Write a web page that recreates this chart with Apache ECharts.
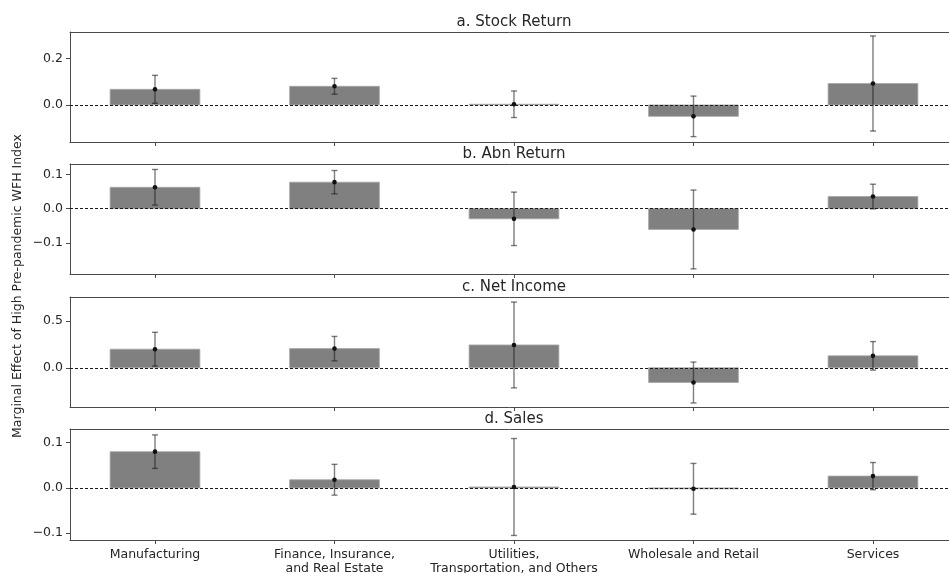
<!DOCTYPE html>
<html>
<head>
<meta charset="utf-8">
<script src="https://cdn.jsdelivr.net/npm/echarts@6/dist/echarts.min.js"></script>
<style>html,body{margin:0;padding:0;background:#fff;}#c{width:949px;height:573px;}</style>
</head>
<body>
<div id="c"></div>
<script>
// ---- data ----
const categories = ["Manufacturing", "Finance, Insurance,\nand Real Estate", "Utilities,\nTransportation, and Others", "Wholesale and Retail", "Services"];
const panelTitles = ["a. Stock Return", "b. Abn Return", "c. Net Income", "d. Sales"];
const yAxisTitle = "Marginal Effect of High Pre-pandemic WFH Index";

const stockEst = [0.067, 0.080, 0.003, -0.049, 0.092];
const stockErr = [0.060, 0.034, 0.057, 0.087, 0.204];
const abnEst   = [0.062, 0.077, -0.030, -0.061, 0.035];
const abnErr   = [0.052, 0.034, 0.078, 0.115, 0.036];
const netEst   = [0.198, 0.204, 0.243, -0.157, 0.127];
const netErr   = [0.180, 0.130, 0.457, 0.218, 0.152];
const salesEst = [0.080, 0.018, 0.002, -0.002, 0.026];
const salesErr = [0.037, 0.034, 0.107, 0.056, 0.030];

const yMins = [-0.159, -0.191, -0.418, -0.115];
const yMaxs = [0.313, 0.130, 0.754, 0.130];
const yTicksA = [0, 0.2];
const yTicksB = [-0.1, 0, 0.1];
const yTicksC = [0, 0.5];
const yTicksD = [-0.1, 0, 0.1];

// x extent in category units (the right edge of the frame lies past the canvas)
const xMin = -0.4735, xMax = 4.4235;
const barHalf = 0.25;

// ---- build ----
const estimates = [stockEst, abnEst, netEst, salesEst];
const errors = [stockErr, abnErr, netErr, salesErr];
const yTicks = [yTicksA, yTicksB, yTicksC, yTicksD];
const catIdx = categories.map((c, i) => i);

const gridTops = [32, 164, 297, 429];
const gridH = [110, 110, 110, 111];
const txt = '#262626';
const spine = '#4a4a4a';

function fmt(v) {
  const s = Math.abs(v).toFixed(1);
  return v < 0 ? '\u2212' + s : s;
}

function renderItem(params, api) {
  const x = api.value(0), v = api.value(1), e = api.value(2);
  const a = api.coord([x - barHalf, v]);
  const b = api.coord([x + barHalf, 0]);
  const hi = api.coord([x, v + e]);
  const lo = api.coord([x, v - e]);
  const c = api.coord([x, v]);
  const cap = 3;
  const errStyle = { stroke: 'rgba(20,20,20,0.55)', lineWidth: 1.4 };
  return {
    type: 'group',
    children: [
      { type: 'rect', shape: { x: a[0], y: Math.min(a[1], b[1]), width: b[0] - a[0], height: Math.max(Math.abs(a[1] - b[1]), 0.6) },
        style: { fill: '#808080', stroke: '#a6a6a6', lineWidth: 0.8 }, z2: 1 },
      { type: 'line', shape: { x1: hi[0], y1: hi[1], x2: lo[0], y2: lo[1] }, style: errStyle, z2: 3 },
      { type: 'line', shape: { x1: hi[0] - cap, y1: hi[1], x2: hi[0] + cap, y2: hi[1] }, style: errStyle, z2: 3 },
      { type: 'line', shape: { x1: lo[0] - cap, y1: lo[1], x2: lo[0] + cap, y2: lo[1] }, style: errStyle, z2: 3 },
      { type: 'circle', shape: { cx: c[0], cy: c[1], r: 2.3 }, style: { fill: '#111' }, z2: 4 }
    ]
  };
}

const grids = [], xAxes = [], yAxes = [], series = [], titles = [];
const font = 'DejaVu Sans';
for (let k = 0; k < 4; k++) {
  grids.push({ left: 70, right: 0, top: gridTops[k], height: gridH[k], show: false, containLabel: false, outerBoundsMode: 'none' });
  // bottom axis (frame bottom + ticks + labels)
  xAxes.push({
    type: 'value', gridIndex: k, min: xMin, max: xMax, position: 'bottom',
    axisLine: { show: true, onZero: false, lineStyle: { color: spine, width: 1 } },
    splitLine: { show: false },
    axisTick: { show: true, inside: false, length: 4, lineStyle: { color: spine }, customValues: catIdx },
    axisLabel: { show: k === 3, customValues: catIdx, formatter: v => categories[Math.round(v)] || '', color: txt, fontSize: 12.5, fontFamily: font, lineHeight: 14, margin: 8 }
  });
  // top axis (frame top only)
  xAxes.push({
    type: 'value', gridIndex: k, min: xMin, max: xMax, position: 'top',
    axisLine: { show: true, onZero: false, lineStyle: { color: spine, width: 1 } },
    splitLine: { show: false }, axisTick: { show: false }, axisLabel: { show: false }
  });
  yAxes.push({
    type: 'value', gridIndex: k, min: yMins[k], max: yMaxs[k], position: 'left',
    axisLine: { show: true, onZero: false, lineStyle: { color: spine, width: 1 } },
    splitLine: { show: false },
    axisTick: { show: true, inside: false, length: 4, lineStyle: { color: spine }, customValues: yTicks[k] },
    axisLabel: { show: true, customValues: yTicks[k], formatter: fmt, color: txt, fontSize: 12.5, fontFamily: font, margin: 7 }
  });
  titles.push({ text: panelTitles[k], left: 514, top: gridTops[k] - 17, textAlign: 'center', padding: 0,
    textStyle: { fontSize: 15, fontWeight: 'normal', color: txt, fontFamily: font } });
  series.push({
    type: 'custom', xAxisIndex: 2 * k, yAxisIndex: k, renderItem: renderItem, z: 2,
    encode: { x: 0, y: 1 },
    data: catIdx.map(i => [i, estimates[k][i], errors[k][i]])
  });
  series.push({
    type: 'line', xAxisIndex: 2 * k, yAxisIndex: k, data: [], z: 3, silent: true,
    markLine: { silent: true, symbol: 'none', label: { show: false },
      lineStyle: { type: [3, 2], color: '#1a1a1a', width: 1 },
      data: [{ yAxis: 0 }] }
  });
}

const chart = echarts.init(document.getElementById('c'), null, { renderer: 'canvas' });
chart.setOption({
  animation: false,
  backgroundColor: '#fff',
  title: titles,
  grid: grids,
  xAxis: xAxes,
  yAxis: yAxes,
  series: series,
  graphic: [{
    type: 'text', x: 18, y: 286, rotation: Math.PI / 2,
    style: { text: yAxisTitle, fill: txt, fontSize: 12.5, fontFamily: font, align: 'center', verticalAlign: 'middle' }
  }]
});
</script>
</body>
</html>
